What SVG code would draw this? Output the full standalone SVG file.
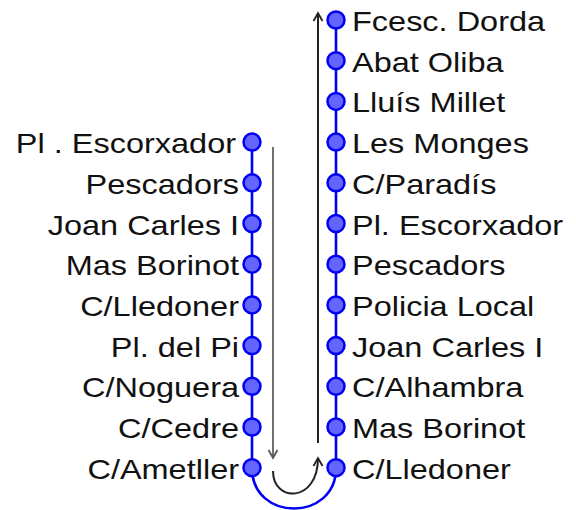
<svg xmlns="http://www.w3.org/2000/svg" width="576" height="510" viewBox="0 0 576 510">
<style>
.lbl{font-family:"Liberation Sans",Arial,sans-serif;font-size:28px;fill:#111}
.l{text-anchor:end}
.st{fill:#6464ff;stroke:#0000f5;stroke-width:2.5}
.track{stroke:#0000f5;stroke-width:2.6;fill:none}
</style>
<defs>
<marker id="ag" markerWidth="12" markerHeight="12" refX="9" refY="6" orient="auto" markerUnits="userSpaceOnUse">
<path d="M1,1.5 L9,6 L1,10.5" fill="none" stroke="#555" stroke-width="1.8"/>
</marker>
<marker id="ab" markerWidth="12" markerHeight="12" refX="9" refY="6" orient="auto" markerUnits="userSpaceOnUse">
<path d="M1,1.5 L9,6 L1,10.5" fill="none" stroke="#222" stroke-width="1.8"/>
</marker>
</defs>
<g id="connectors">
<line class="track" x1="252" y1="142" x2="252" y2="468"/>
<line class="track" x1="336" y1="20" x2="336" y2="468"/>
<path class="track" d="M252,468 C252,522 336,522 336,468"/>
<line x1="273" y1="147" x2="273" y2="458" stroke="#707070" stroke-width="2" marker-end="url(#ag)"/>
<line x1="318" y1="443" x2="318" y2="13" stroke="#222" stroke-width="2" marker-end="url(#ab)"/>
<path d="M273,471 C273,503 318,503 318,458" fill="none" stroke="#222" stroke-width="2" marker-end="url(#ab)"/>
</g>
<g id="right">
<g id="r1"><circle class="st" cx="336" cy="20" r="8.5"/><text class="lbl" transform="matrix(1.16,0,0,1,352,31)">Fcesc. Dorda</text></g>
<g id="r2"><circle class="st" cx="336" cy="60.7" r="8.5"/><text class="lbl" transform="matrix(1.16,0,0,1,352,71.7)">Abat Oliba</text></g>
<g id="r3"><circle class="st" cx="336" cy="101.4" r="8.5"/><text class="lbl" transform="matrix(1.16,0,0,1,352,112.4)">Lluís Millet</text></g>
<g id="r4"><circle class="st" cx="336" cy="142.1" r="8.5"/><text class="lbl" transform="matrix(1.16,0,0,1,352,153.1)">Les Monges</text></g>
<g id="r5"><circle class="st" cx="336" cy="182.8" r="8.5"/><text class="lbl" transform="matrix(1.16,0,0,1,352,193.8)">C/Paradís</text></g>
<g id="r6"><circle class="st" cx="336" cy="223.5" r="8.5"/><text class="lbl" transform="matrix(1.16,0,0,1,352,234.5)">Pl. Escorxador</text></g>
<g id="r7"><circle class="st" cx="336" cy="264.2" r="8.5"/><text class="lbl" transform="matrix(1.16,0,0,1,352,275.2)">Pescadors</text></g>
<g id="r8"><circle class="st" cx="336" cy="304.9" r="8.5"/><text class="lbl" transform="matrix(1.16,0,0,1,352,315.9)">Policia Local</text></g>
<g id="r9"><circle class="st" cx="336" cy="345.6" r="8.5"/><text class="lbl" transform="matrix(1.16,0,0,1,352,356.6)">Joan Carles I</text></g>
<g id="r10"><circle class="st" cx="336" cy="386.3" r="8.5"/><text class="lbl" transform="matrix(1.16,0,0,1,352,397.3)">C/Alhambra</text></g>
<g id="r11"><circle class="st" cx="336" cy="427" r="8.5"/><text class="lbl" transform="matrix(1.16,0,0,1,352,438)">Mas Borinot</text></g>
<g id="r12"><circle class="st" cx="336" cy="467.7" r="8.5"/><text class="lbl" transform="matrix(1.16,0,0,1,352,478.7)">C/Lledoner</text></g>
</g>
<g id="left">
<g id="l1"><circle class="st" cx="252" cy="142.1" r="8.5"/><text class="lbl l" transform="matrix(1.16,0,0,1,236,153.1)">Pl . Escorxador</text></g>
<g id="l2"><circle class="st" cx="252" cy="182.8" r="8.5"/><text class="lbl l" transform="matrix(1.16,0,0,1,239,193.8)">Pescadors</text></g>
<g id="l3"><circle class="st" cx="252" cy="223.5" r="8.5"/><text class="lbl l" transform="matrix(1.16,0,0,1,239,234.5)">Joan Carles I</text></g>
<g id="l4"><circle class="st" cx="252" cy="264.2" r="8.5"/><text class="lbl l" transform="matrix(1.16,0,0,1,239,275.2)">Mas Borinot</text></g>
<g id="l5"><circle class="st" cx="252" cy="304.9" r="8.5"/><text class="lbl l" transform="matrix(1.16,0,0,1,239,315.9)">C/Lledoner</text></g>
<g id="l6"><circle class="st" cx="252" cy="345.6" r="8.5"/><text class="lbl l" transform="matrix(1.16,0,0,1,239,356.6)">Pl. del Pi</text></g>
<g id="l7"><circle class="st" cx="252" cy="386.3" r="8.5"/><text class="lbl l" transform="matrix(1.16,0,0,1,239,397.3)">C/Noguera</text></g>
<g id="l8"><circle class="st" cx="252" cy="427" r="8.5"/><text class="lbl l" transform="matrix(1.16,0,0,1,239,438)">C/Cedre</text></g>
<g id="l9"><circle class="st" cx="252" cy="467.7" r="8.5"/><text class="lbl l" transform="matrix(1.16,0,0,1,239,478.7)">C/Ametller</text></g>
</g>
</svg>
